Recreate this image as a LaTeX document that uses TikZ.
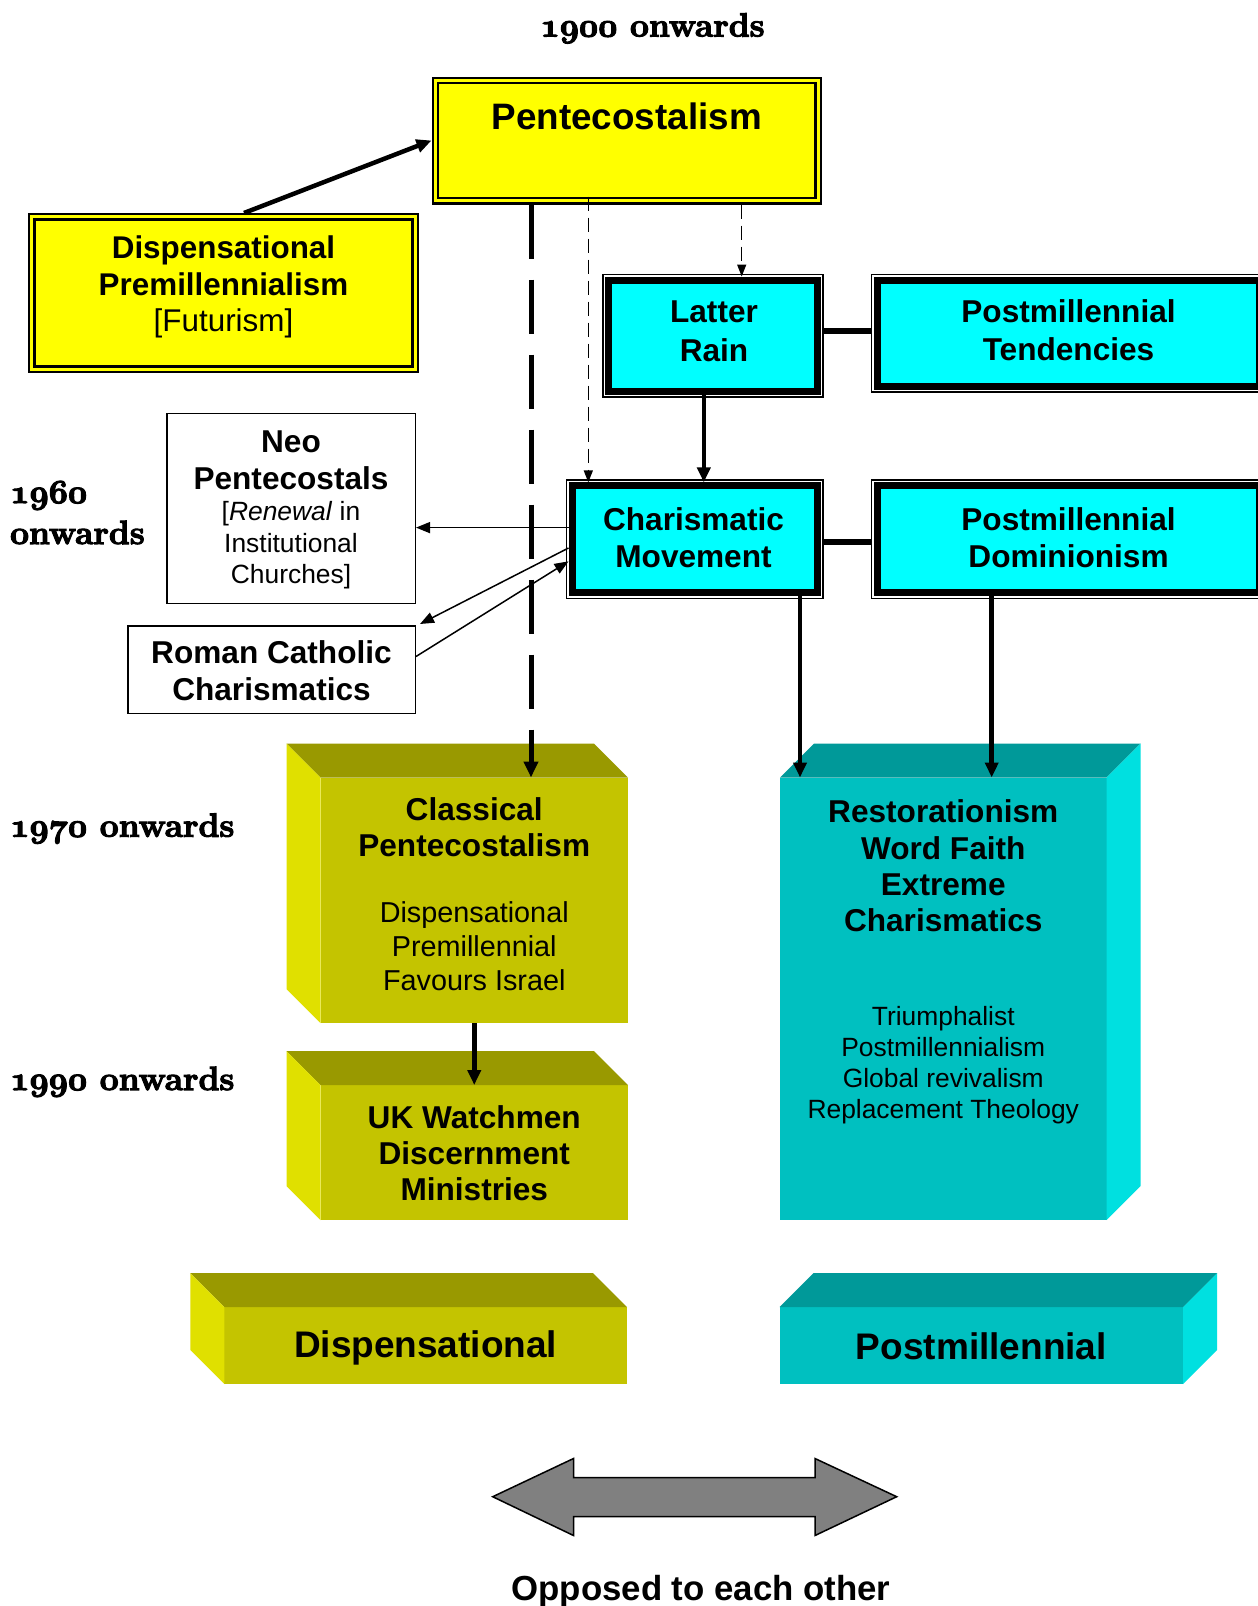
\documentclass[tikz,border=0pt]{standalone}
\usepackage{fontspec}
\newfontfamily\arial{Liberation Sans}
\usetikzlibrary{arrows.meta,calc}
\definecolor{yel}{HTML}{FFFF00}
\definecolor{cyn}{HTML}{00FFFF}
\definecolor{olvF}{HTML}{C4C400}
\definecolor{olvT}{HTML}{999900}
\definecolor{olvS}{HTML}{E0E000}
\definecolor{tlF}{HTML}{00C0C0}
\definecolor{tlT}{HTML}{009999}
\definecolor{tlS}{HTML}{00E0E0}
\definecolor{arrgray}{HTML}{808080}
\DeclareFontFamily{OML}{myosf}{\skewchar\font=127 }
\DeclareFontShape{OML}{myosf}{b}{it}{<-> cmmib10}{}
\newcommand\mlines[1]{\begin{tabular}[t]{@{}c@{}}#1\end{tabular}}
\newcommand\lmlines[1]{\begin{tabular}[t]{@{}l@{}}#1\end{tabular}}
\newcommand\osn[1]{{\usefont{OML}{myosf}{b}{it}#1}}
\newcommand\heavy[1]{\special{pdf:literal direct 2 Tr 1.1 w}#1\special{pdf:literal direct 0 Tr}}
\tikzset{
  ybox/.style={draw=black, fill=yel, double=yel, double distance=3pt, line width=2.4pt, inner sep=0pt, outer sep=3.9pt},
  cbox/.style={draw=black, fill=cyn, line width=7pt, inner sep=0pt, outer sep=3.5pt},
  wbox/.style={draw=black, fill=white, line width=1.5pt, inner sep=0pt},
  face/.style={inner sep=0pt, outer sep=0pt},
  bt/.style={inner sep=0pt, anchor=base, font=\arial\bfseries\fontsize{31.6}{36.5}\selectfont},
  serif/.style={inner sep=0pt, font=\rmfamily\bfseries\fontsize{33.5}{41}\selectfont},
  bigarr/.style={line width=4.5pt, -{Triangle[length=15pt,width=13pt]}},
  dasharr/.style={line width=5pt, dash pattern=on 54pt off 21pt, -{Triangle[length=16pt,width=14pt]}},
  thindash/.style={line width=1.3pt, dash pattern=on 14pt off 7pt, -{Triangle[length=12pt,width=9pt]}},
  thinarr/.style={line width=1.5pt, -{Triangle[length=14pt,width=11pt]}},
  link/.style={line width=5.5pt},
}
\begin{document}
\begin{tikzpicture}[x=1pt,y=-1pt]
\clip (0,0) rectangle (1258,1606);
\fill[white] (0,0) rectangle (1258,1606);

% ---------- 3D blocks ----------
\node[face, fill=olvF, minimum width=307.5pt, minimum height=245.5pt] (cl) at (474.25,900.25) {};
\fill[olvT] (cl.north west) -- ++(-34,-34) -- ($(cl.north east)+(-34,-34)$) -- (cl.north east) -- cycle;
\fill[olvS] (cl.north west) -- ++(-34,-34) -- ($(cl.south west)+(-34,-34)$) -- (cl.south west) -- cycle;

\node[face, fill=olvF, minimum width=307.5pt, minimum height=135pt] (uk) at (474.25,1152.5) {};
\fill[olvT] (uk.north west) -- ++(-34,-34) -- ($(uk.north east)+(-34,-34)$) -- (uk.north east) -- cycle;
\fill[olvS] (uk.north west) -- ++(-34,-34) -- ($(uk.south west)+(-34,-34)$) -- (uk.south west) -- cycle;

\node[face, fill=tlF, minimum width=326.5pt, minimum height=442.5pt] (rs) at (943.25,998.75) {};
\fill[tlT] (rs.north west) -- ++(34,-34) -- ($(rs.north east)+(34,-34)$) -- (rs.north east) -- cycle;
\fill[tlS] (rs.north east) -- ++(34,-34) -- ($(rs.south east)+(34,-34)$) -- (rs.south east) -- cycle;

\node[face, fill=olvF, minimum width=402.7pt, minimum height=76.9pt] (bd) at (425.65,1345.55) {};
\fill[olvT] (bd.north west) -- ++(-34,-34) -- ($(bd.north east)+(-34,-34)$) -- (bd.north east) -- cycle;
\fill[olvS] (bd.north west) -- ++(-34,-34) -- ($(bd.south west)+(-34,-34)$) -- (bd.south west) -- cycle;

\node[face, fill=tlF, minimum width=403.6pt, minimum height=76.9pt] (bp) at (981.4,1345.55) {};
\fill[tlT] (bp.north west) -- ++(34,-34) -- ($(bp.north east)+(34,-34)$) -- (bp.north east) -- cycle;
\fill[tlS] (bp.north east) -- ++(34,-34) -- ($(bp.south east)+(34,-34)$) -- (bp.south east) -- cycle;

% ---------- boxes ----------
\node[ybox, minimum width=382.7pt, minimum height=120.2pt] (pent) at (626.75,140.5) {};
\node[ybox, minimum width=383.2pt, minimum height=152.2pt] (dp) at (223.5,293) {};

\node[cbox, minimum width=208.3pt, minimum height=111pt] (lr) at (712.95,335.5) {};
\node[cbox, minimum width=382.3pt, minimum height=106pt] (pt) at (1068.35,333) {};
\node[cbox, minimum width=245.1pt, minimum height=106.9pt] (cm) at (694.55,539.35) {};
\node[cbox, minimum width=382.3pt, minimum height=106.9pt] (pd) at (1068.35,539.35) {};
\foreach \b in {lr,pt,cm,pd}{
  \draw[line width=1.5pt] ($(\b.north west)+(-2.25,-2.25)$) rectangle ($(\b.south east)+(2.25,2.25)$);
}

\node[wbox, minimum width=248.5pt, minimum height=190.1pt] (neo) at (291,508.6) {};
\node[wbox, minimum width=287.5pt, minimum height=87.5pt] (rc) at (271.5,669.5) {};

% ---------- texts ----------
\node[bt, font=\arial\bfseries\fontsize{36.8}{40}\selectfont] (pentT) at (626.75,129) {Pentecostalism};
\node[bt, font=\arial\bfseries\fontsize{31.4}{36.6}\selectfont] (dpT) at (223.5,258.5)
  {\mlines{Dispensational\\Premillennialism\\\mdseries [Futurism]}};
\node[bt, font=\arial\bfseries\fontsize{31.6}{39}\selectfont] (lrT) at (714,322.5) {\mlines{Latter\\Rain}};
\node[bt, font=\arial\bfseries\fontsize{31.6}{38}\selectfont] (ptT) at (1068.5,322.5) {\mlines{Postmillennial\\Tendencies}};
\node[bt, font=\arial\bfseries\fontsize{31.6}{37}\selectfont] (cmT) at (693.5,530.5) {\mlines{Charismatic\\Movement}};
\node[bt, font=\arial\bfseries\fontsize{31.6}{37}\selectfont] (pdT) at (1068.5,530.5) {\mlines{Postmillennial\\Dominionism}};
\node[bt, font=\arial\bfseries\fontsize{31.6}{37}\selectfont] (neoT) at (291,452.5)
  {\mlines{Neo\\Pentecostals\\[-6pt]
   {\mdseries\fontsize{26.4}{31}\selectfont [\textit{Renewal} in}\\[-5pt]
   {\mdseries\fontsize{26.4}{31}\selectfont Institutional}\\[-6.5pt]
   {\mdseries\fontsize{26.4}{31}\selectfont Churches]}}};
\node[bt, font=\arial\bfseries\fontsize{31.6}{37}\selectfont] (rcT) at (271.5,663.5) {\mlines{Roman Catholic\\Charismatics}};

\node[bt, font=\arial\bfseries\fontsize{31.6}{36}\selectfont] (clT) at (474.25,820.7) {\mlines{Classical\\Pentecostalism}};
\node[bt, font=\arial\fontsize{28.8}{34}\selectfont] (clD) at (474.25,922.7) {\mlines{Dispensational\\Premillennial\\Favours Israel}};
\node[bt, font=\arial\bfseries\fontsize{31.6}{36.2}\selectfont] (ukT) at (474.25,1128.3) {\mlines{UK Watchmen\\Discernment\\Ministries}};
\node[bt, font=\arial\bfseries\fontsize{31.6}{36.3}\selectfont] (rsT) at (943.25,822.7) {\mlines{Restorationism\\Word Faith\\Extreme\\Charismatics}};
\node[bt, font=\arial\fontsize{26.4}{30.9}\selectfont] (rsD) at (943.25,1025.7) {\mlines{Triumphalist\\Postmillennialism\\Global revivalism\\Replacement Theology}};
\node[bt, font=\arial\bfseries\fontsize{37}{40}\selectfont] (bdT) at (425.65,1357) {Dispensational};
\node[bt, font=\arial\bfseries\fontsize{37}{40}\selectfont] (bpT) at (981.4,1359) {Postmillennial};
\node[bt, font=\arial\bfseries\fontsize{34.8}{40}\selectfont] (oppT) at (701,1600) {Opposed to each other};

\node[serif, anchor=base] (t1900) at (652.5,36.5) {\heavy{\osn{1900} onwards}};
\node[serif, anchor=base west] (t1960) at (10,503) {\lmlines{\heavy{\osn{1960}}\\\heavy{onwards}}};
\node[serif, anchor=base west] (t1970) at (10,836.7) {\heavy{\osn{1970} onwards}};
\node[serif, anchor=base west] (t1990) at (10,1090) {\heavy{\osn{1990} onwards}};

% ---------- connectors ----------
\coordinate (xA) at (531,0);
\coordinate (xB) at (588.3,0);
\coordinate (xC) at (741.7,0);
\coordinate (xD) at (703.8,0);
\coordinate (xG) at (800,0);
\coordinate (xH) at (991.7,0);

\draw[bigarr] ($(dp.north)+(20.5,0)$) -- (pent.west);
\draw[dasharr] (pent.south -| xA) -- (cl.north -| xA);
\draw[thindash] ($(pent.south -| xB)+(0,-8)$) -- (cm.north -| xB);
\draw[thindash] (pent.south -| xC) -- (lr.north -| xC);
\draw[bigarr] (lr.south -| xD) -- (cm.north -| xD);
\draw[link] ($(lr.east)+(2.25,-4.5)$) coordinate (lrR) -- ($(pt.west |- lrR)+(-2.25,0)$);
\draw[link, line width=6.5pt] ($(cm.east)+(2.25,2.65)$) coordinate (cmR) -- ($(pd.west |- cmR)+(-2.25,0)$);
\draw[thinarr] ($(cm.west)+(0,-11.75)$) coordinate (s8) -- (neo.east |- s8);
\draw[thinarr] ($(cm.west)+(0,8.65)$) -- ($(rc.north east)+(4,-1)$);
\draw[thinarr] ($(rc.east)+(0,-13)$) -- ($(cm.west)+(0,22)$);
\draw[bigarr] (cm.south -| xG) -- (rs.north -| xG);
\draw[bigarr] (pd.south -| xH) -- (rs.north -| xH);
\draw[bigarr] (cl.south) -- (uk.north);

% ---------- opposition arrow ----------
\draw[line width=1.5pt, fill=arrgray] (492.7,1496.7) -- (573.5,1458.5) -- (573.5,1477.5) -- (815,1477.5)
  -- (815,1458.5) -- (896.7,1496.7) -- (815,1535.5) -- (815,1516.5) -- (573.5,1516.5)
  -- (573.5,1535.5) -- cycle;
\end{tikzpicture}
\end{document}
